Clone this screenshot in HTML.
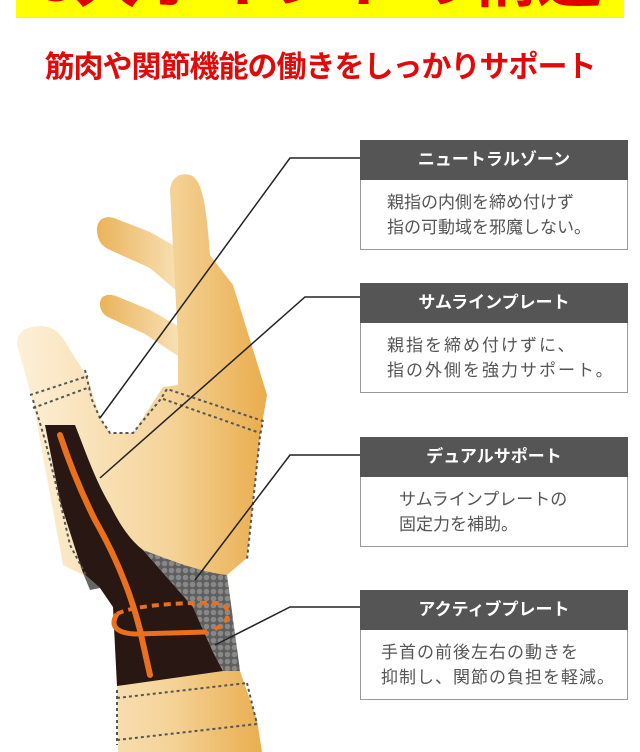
<!DOCTYPE html>
<html><head><meta charset="utf-8"><style>
body{margin:0;width:640px;height:752px;background:#fff;position:relative;overflow:hidden;font-family:"Liberation Sans","Noto Sans CJK JP",sans-serif}
.ban{position:absolute;left:16px;top:0;width:608px;height:18px;background:#ffff00;overflow:hidden}
.ban span{position:absolute;left:0;width:608px;top:-57px;text-align:center;font-size:66px;font-weight:bold;color:#e00000;line-height:70px;white-space:nowrap}
.sub{position:absolute;left:0;width:640px;top:42px;text-align:center;font-size:30px;font-weight:bold;color:#e00a0a;letter-spacing:-1px}
.bx{position:absolute;left:360px;width:268px}
.hd{background:#555;color:#fff;height:40px;line-height:40px;text-align:center;font-size:17px;font-weight:bold}
.bd{border:1.5px solid #999;border-top:none;color:#555;font-size:17px;line-height:25px;padding:10px 0 0 26px;box-sizing:border-box}
</style></head><body>
<div class="ban"><span>3大ポイントの構造</span></div>
<div class="sub">筋肉や関節機能の働きをしっかりサポート</div>
<svg width="640" height="752" style="position:absolute;left:0;top:0">
<defs>
<linearGradient id="g" x1="0" x2="1"><stop offset="0" stop-color="#fdf0d8"/><stop offset="0.6" stop-color="#f5d49a"/><stop offset="1" stop-color="#e9ac4c"/></linearGradient>
<linearGradient id="g2" x1="0" x2="1"><stop offset="0" stop-color="#eab35a"/><stop offset="1" stop-color="#f8e0b4"/></linearGradient>
<pattern id="dots" width="7" height="7" patternUnits="userSpaceOnUse"><rect width="7" height="7" fill="#5e5e5e"/><circle cx="3.5" cy="3.5" r="2.8" fill="#888"/></pattern>
</defs>
<path d="M97,232 C96,220 104,215 114,218 L150,232 L178,248 L178,292 L150,268 L110,250 C101,246 98,240 97,232Z" fill="url(#g2)"/>
<path d="M100,304 C100,296 106,293 116,296 L150,310 L178,326 L178,356 L145,334 L110,318 C103,315 100,310 100,304Z" fill="url(#g2)"/>
<path d="M170,192 C170,178 180,172 190,175 C200,178 206,195 210,255 L233,285 L247,330 L267,395 L260,436 L247,558 L227,575 L240,671 L257,720 L262,752 L118,752 L117,686 L113,607 L100,588 L87,577 L63,565 L33,402 L17,345 C16,332 25,327 40,326 C55,326 62,335 70,350 L87,376 L100,418 L110,433 L133,433 L163,387 L178,385 L178,340 Z" fill="url(#g)"/>
<path d="M45,425 L75,425 C85,450 95,480 110,505 C120,525 130,540 143,550 L193,607 L213,652 L223,671 L117,686 L113,607 L100,588 L83,573 L60,501 Z" fill="#281713"/>
<path d="M143,550 C170,560 200,572 227,575 L240,671 L223,671 L213,652 L193,607 Z" fill="url(#dots)"/>
<path d="M83,573 L100,588 L90,590 Z" fill="#666"/>
<path d="M60,435 C70,465 80,490 95,520 C115,555 130,590 140,630 L150,675" stroke="#e8701e" stroke-width="6" fill="none" stroke-linecap="round"/>
<path d="M117,614 C110,625 115,633 135,634 L207,632" stroke="#e8701e" stroke-width="5" fill="none"/>
<path d="M117,614 C130,606 180,602 217,603 C232,606 232,622 213,630" stroke="#e8701e" stroke-width="4" fill="none" stroke-dasharray="7 5"/>
<g stroke="#555" stroke-width="2" fill="none" stroke-dasharray="3 3">
<path d="M30,395 L88,376 M33,408 L90,387"/>
<path d="M85,370 L92,400 L100,418 L110,433 L133,433 L160,400 L167,389 L263,421 L260,436 L247,560"/>
<path d="M163,399 L260,433"/>
<path d="M33,400 L45,440 L60,501 L70,545 L87,577"/>
<path d="M117,698 L247,683 M117,740 L257,724 M117,690 L117,745 M247,683 L257,724"/>
</g>
<g stroke="#222" stroke-width="1.5" fill="none">
<polyline points="360,158 290,158 100,418"/>
<polyline points="360,297 305,297 100,478"/>
<polyline points="360,455 290,455 195,580"/>
<polyline points="360,607 290,607 215,645"/>
</g>
</svg>
<div class="bx" style="top:140px"><div class="hd">ニュートラルゾーン</div><div class="bd" style="height:70px">親指の内側を締め付けず<br>指の可動域を邪魔しない。</div></div>
<div class="bx" style="top:283px"><div class="hd">サムラインプレート</div><div class="bd" style="height:70px;letter-spacing:2px">親指を締め付けずに、<br>指の外側を強力サポート。</div></div>
<div class="bx" style="top:437px"><div class="hd">デュアルサポート</div><div class="bd" style="height:70px;padding-left:38px">サムラインプレートの<br>固定力を補助。</div></div>
<div class="bx" style="top:590px"><div class="hd">アクティブプレート</div><div class="bd" style="height:70px;padding-left:20px;letter-spacing:1px">手首の前後左右の動きを<br>抑制し、関節の負担を軽減。</div></div>
</body></html>
